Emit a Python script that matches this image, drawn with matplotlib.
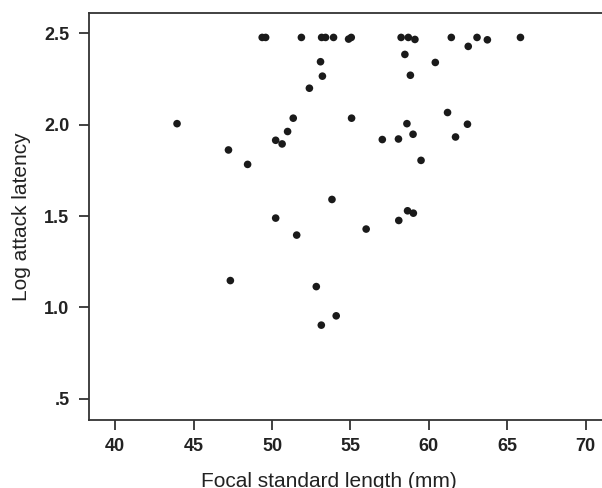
import matplotlib
matplotlib.use("Agg")
import matplotlib.pyplot as plt

# focal standard length (mm) and log attack latency
length_mm = [49.37, 49.59, 51.87, 53.16, 53.41, 53.92, 54.88, 55.05,
             58.23, 58.69, 59.11, 61.43, 62.51, 63.07, 63.73, 65.84,
             58.47, 53.09, 60.41, 53.21, 58.82, 52.38,
             51.35, 55.07, 61.19, 43.94, 58.60, 62.46,
             50.99, 58.99, 61.70, 50.23, 50.64, 57.03, 58.06,
             47.22, 48.44, 59.50,
             53.82, 50.23, 58.64, 59.01, 58.08, 56.00, 51.57,
             47.34, 52.82, 54.09, 53.14]
log_latency = [2.478, 2.478, 2.478, 2.478, 2.478, 2.478, 2.469, 2.478,
               2.478, 2.478, 2.467, 2.478, 2.429, 2.478, 2.465, 2.478,
               2.385, 2.345, 2.341, 2.266, 2.271, 2.200,
               2.036, 2.036, 2.067, 2.006, 2.006, 2.003,
               1.963, 1.948, 1.933, 1.915, 1.895, 1.919, 1.922,
               1.862, 1.783, 1.805,
               1.591, 1.489, 1.529, 1.516, 1.476, 1.429, 1.396,
               1.147, 1.114, 0.954, 0.903]

x_ticks = [40, 45, 50, 55, 60, 65, 70]
y_ticks = [0.5, 1.0, 1.5, 2.0, 2.5]
y_tick_labels = [".5", "1.0", "1.5", "2.0", "2.5"]

plt.rcParams['font.family'] = ['Liberation Sans', 'DejaVu Sans']

fig = plt.figure(figsize=(6.02, 4.88), dpi=100)
ax = fig.add_axes([0.1477, 0.1402, 0.8523, 0.8325])

ax.scatter(length_mm, log_latency, s=30, color='#1a1a1a', edgecolors='none', zorder=3)

ax.set_xlim(38.32, 71.04)
ax.set_ylim(0.386, 2.61)
ax.set_xticks(x_ticks)
ax.set_yticks(y_ticks)
ax.set_yticklabels(y_tick_labels)

#no right spine, the frame runs off the edge
ax.spines['right'].set_visible(False)
for side in ['left', 'top', 'bottom']:
    ax.spines[side].set_color('#333333')
    ax.spines[side].set_linewidth(1.3)

ax.tick_params(direction='out', length=7, width=1.3, color='#333333',
               labelsize=13, labelcolor='#222222')
ax.tick_params(axis='y', pad=7)
ax.tick_params(axis='x', pad=6)
for lab in ax.get_xticklabels() + ax.get_yticklabels():
    lab.set_fontweight('bold')

ax.set_xlabel("Focal standard length (mm)", fontsize=15, color='#222222')
ax.set_ylabel("Log attack latency", fontsize=15, color='#222222')
ax.xaxis.set_label_coords(0.468, -0.128)
ax.yaxis.set_label_coords(-0.112, 0.5)

fig.savefig("out.png", dpi=100)
